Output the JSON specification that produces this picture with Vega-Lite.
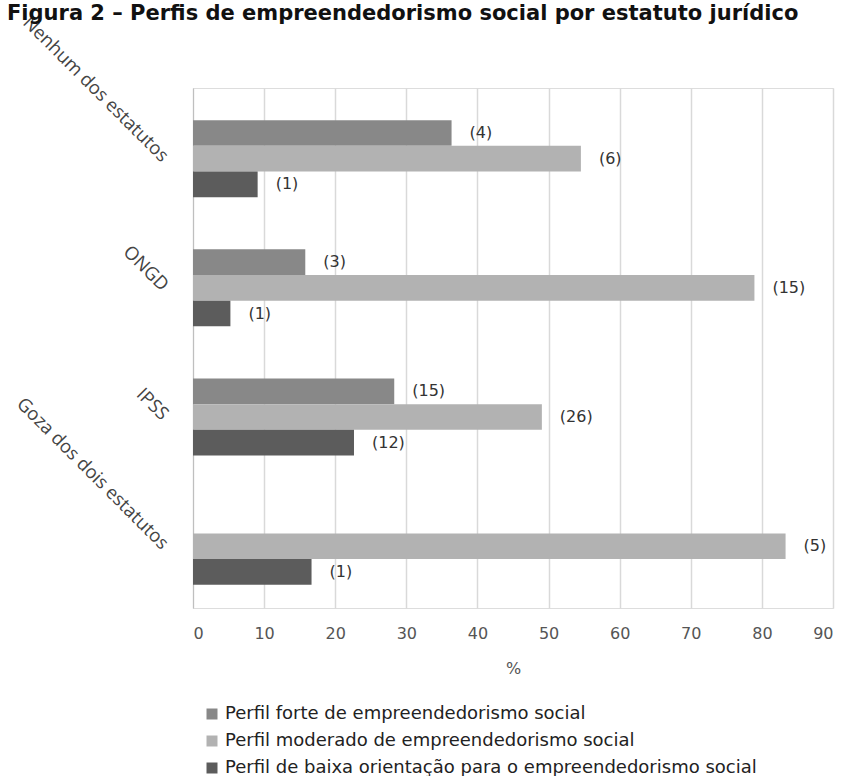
{
  "$schema": "https://vega.github.io/schema/vega-lite/v6.json",
  "width": 640,
  "height": 520,
  "autosize": {"type": "none"},
  "padding": {"left": 193, "top": 88, "right": 13, "bottom": 168},
  "background": "white",
  "title": {
    "text": "Figura 2 – Perfis de empreendedorismo social por estatuto jurídico",
    "anchor": "start",
    "frame": "group",
    "offset": 0,
    "dy": 28,
    "baseline": "alphabetic",
    "dx": -186,
    "font": "DejaVu Sans",
    "fontSize": 21,
    "fontWeight": "bold",
    "color": "#111111"
  },
  "data": {
    "values": [
      {"estatuto": "Nenhum dos estatutos", "perfil": "Perfil forte de empreendedorismo social", "pct": 36.36, "lbl": "(4)"},
      {"estatuto": "Nenhum dos estatutos", "perfil": "Perfil moderado de empreendedorismo social", "pct": 54.55, "lbl": "(6)"},
      {"estatuto": "Nenhum dos estatutos", "perfil": "Perfil de baixa orientação para o empreendedorismo social", "pct": 9.09, "lbl": "(1)"},
      {"estatuto": "ONGD", "perfil": "Perfil forte de empreendedorismo social", "pct": 15.79, "lbl": "(3)"},
      {"estatuto": "ONGD", "perfil": "Perfil moderado de empreendedorismo social", "pct": 78.95, "lbl": "(15)"},
      {"estatuto": "ONGD", "perfil": "Perfil de baixa orientação para o empreendedorismo social", "pct": 5.26, "lbl": "(1)"},
      {"estatuto": "IPSS", "perfil": "Perfil forte de empreendedorismo social", "pct": 28.30, "lbl": "(15)"},
      {"estatuto": "IPSS", "perfil": "Perfil moderado de empreendedorismo social", "pct": 49.06, "lbl": "(26)"},
      {"estatuto": "IPSS", "perfil": "Perfil de baixa orientação para o empreendedorismo social", "pct": 22.64, "lbl": "(12)"},
      {"estatuto": "Goza dos dois estatutos", "perfil": "Perfil moderado de empreendedorismo social", "pct": 83.33, "lbl": "(5)"},
      {"estatuto": "Goza dos dois estatutos", "perfil": "Perfil de baixa orientação para o empreendedorismo social", "pct": 16.67, "lbl": "(1)"}
    ]
  },
  "encoding": {
    "y": {
      "field": "estatuto",
      "type": "nominal",
      "sort": ["Nenhum dos estatutos", "ONGD", "IPSS", "Goza dos dois estatutos"],
      "scale": {"paddingInner": 0.404, "paddingOuter": 0.2145, "align": 0.58},
      "axis": {
        "title": null,
        "ticks": false,
        "domain": true,
        "domainColor": "#bfbfbf",
        "domainWidth": 1,
        "labelAngle": 45,
        "labelAlign": "right",
        "labelBaseline": "middle",
        "labelPadding": 28,
        "labelFont": "Open Sans",
        "labelFontSize": 18.5,
        "labelColor": "#444444",
        "labelLimit": 0,
        "labelOverlap": false
      }
    },
    "yOffset": {
      "field": "perfil",
      "type": "nominal",
      "scale": {
        "domain": [
          "Perfil forte de empreendedorismo social",
          "Perfil moderado de empreendedorismo social",
          "Perfil de baixa orientação para o empreendedorismo social"
        ],
        "paddingInner": 0,
        "paddingOuter": 0
      }
    },
    "x": {
      "field": "pct",
      "type": "quantitative",
      "scale": {"domain": [0, 90], "nice": false},
      "axis": {
        "title": "%",
        "values": [0, 10, 20, 30, 40, 50, 60, 70, 80, 90],
        "grid": true,
        "gridColor": "#d9d9d9",
        "gridWidth": 1.5,
        "domain": false,
        "ticks": false,
        "labelPadding": 17,
        "labelFont": "DejaVu Sans",
        "labelFontSize": 16,
        "labelColor": "#555555",
        "titleFont": "DejaVu Sans",
        "titleFontSize": 16,
        "titleFontWeight": "normal",
        "titleColor": "#555555",
        "titlePadding": 19
      }
    }
  },
  "layer": [
    {
      "mark": {"type": "bar"},
      "encoding": {
        "color": {
          "field": "perfil",
          "type": "nominal",
          "scale": {
            "domain": [
              "Perfil forte de empreendedorismo social",
              "Perfil moderado de empreendedorismo social",
              "Perfil de baixa orientação para o empreendedorismo social"
            ],
            "range": ["#888888", "#b2b2b2", "#5c5c5c"]
          },
          "legend": {
            "title": null,
            "orient": "none",
            "legendX": 10,
            "legendY": 617,
            "padding": 0,
            "direction": "vertical",
            "symbolType": "square",
            "symbolSize": 121,
            "symbolStrokeWidth": 0,
            "labelFont": "DejaVu Sans",
            "labelFontSize": 18,
            "labelColor": "#222222",
            "labelLimit": 0,
            "labelOffset": 4,
            "rowPadding": 9
          }
        }
      }
    },
    {
      "mark": {"type": "text", "align": "left", "baseline": "middle", "dx": 18, "font": "DejaVu Sans", "fontSize": 16, "color": "#333333"},
      "encoding": {
        "text": {"field": "lbl", "type": "nominal"}
      }
    }
  ]
}
